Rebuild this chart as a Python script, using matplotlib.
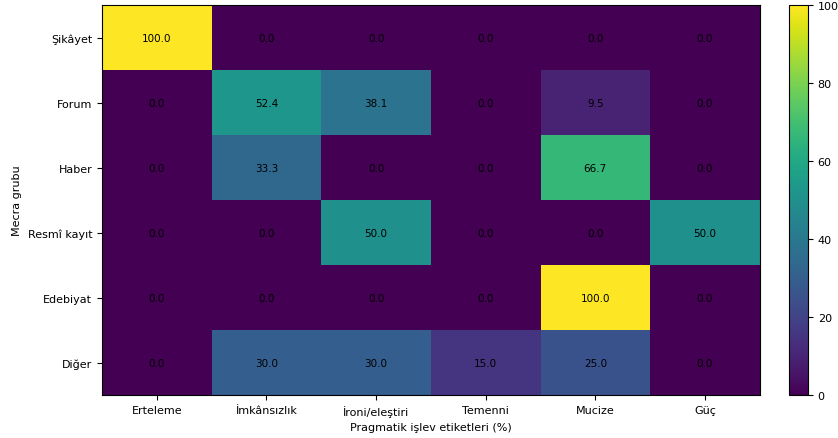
import numpy as np
import matplotlib.pyplot as plt

# satırlar: mecra grupları, sütunlar: pragmatik işlev etiketleri (%)
mecralar = ['Şikâyet', 'Forum', 'Haber', 'Resmî kayıt', 'Edebiyat', 'Diğer']
islevler = ['Erteleme', 'İmkânsızlık', 'İroni/eleştiri', 'Temenni', 'Mucize', 'Güç']

sikayet = [100.0, 0.0, 0.0, 0.0, 0.0, 0.0]
forum = [0.0, 52.4, 38.1, 0.0, 9.5, 0.0]
haber = [0.0, 33.3, 0.0, 0.0, 66.7, 0.0]
resmi = [0.0, 0.0, 50.0, 0.0, 0.0, 50.0]
edebiyat = [0.0, 0.0, 0.0, 0.0, 100.0, 0.0]
diger = [0.0, 30.0, 30.0, 15.0, 25.0, 0.0]

oranlar = np.array([sikayet, forum, haber, resmi, edebiyat, diger])

fig = plt.figure(figsize=(8.38, 4.39), dpi=100)
ax = fig.add_axes([0.1217, 0.0979, 0.785, 0.888])
cax = fig.add_axes([0.9415, 0.0979, 0.0227, 0.888])

im = ax.imshow(oranlar, cmap='viridis', vmin=0, vmax=100, aspect='auto')

# her hücreye yüzde değeri
for i in range(oranlar.shape[0]):
    for j in range(oranlar.shape[1]):
        ax.text(j, i, f'{oranlar[i, j]:.1f}', ha='center', va='center',
                fontsize=7.5, color='black')

ax.set_xticks(range(len(islevler)))
ax.set_xticklabels(islevler, fontsize=8)
ax.set_yticks(range(len(mecralar)))
ax.set_yticklabels(mecralar, fontsize=8)
ax.set_xlabel('Pragmatik işlev etiketleri (%)', fontsize=8)
ax.set_ylabel('Mecra grubu', fontsize=8)

cb = fig.colorbar(im, cax=cax)
cb.ax.tick_params(labelsize=8)

fig.savefig('out.png', dpi=100)
